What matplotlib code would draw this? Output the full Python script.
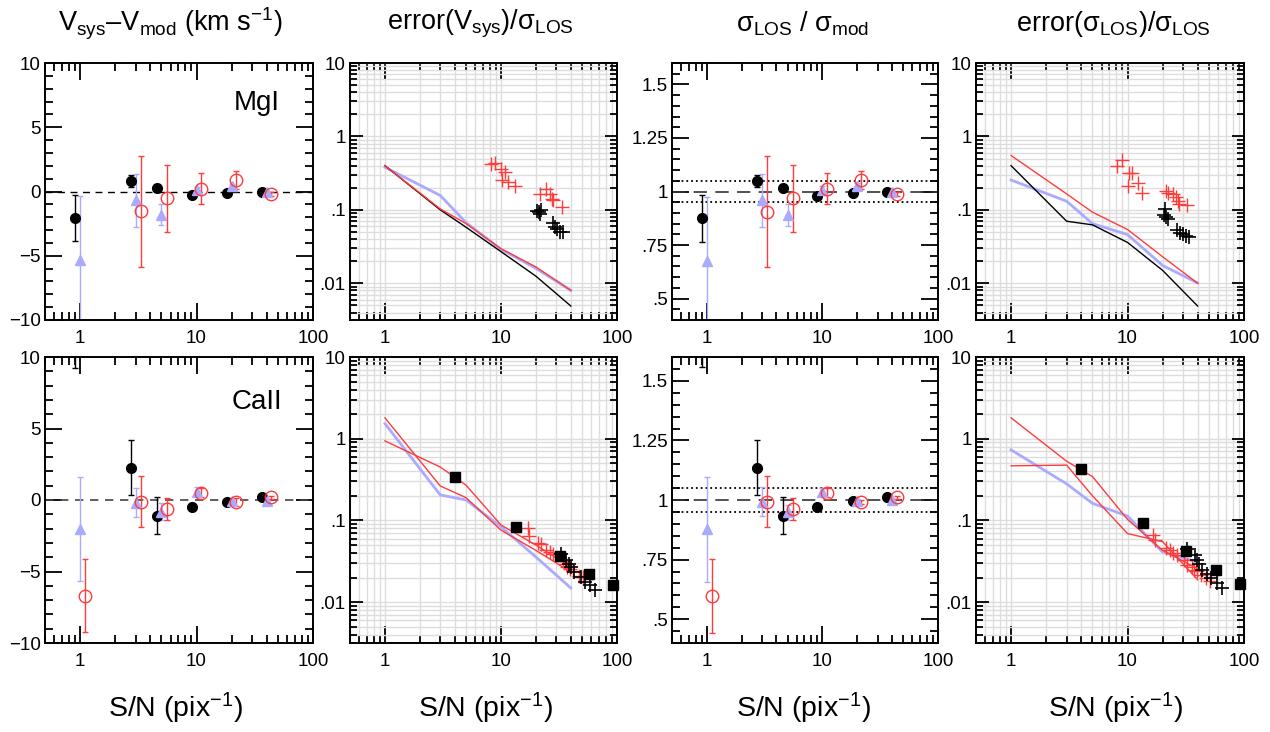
import numpy as np
import matplotlib
matplotlib.use('Agg')
import matplotlib.pyplot as plt
from matplotlib.ticker import LogLocator, NullFormatter, MultipleLocator

plt.rcParams['font.family'] = ['Liberation Sans', 'DejaVu Sans']
plt.rcParams['mathtext.fontset'] = 'custom'
plt.rcParams['mathtext.rm'] = 'Liberation Sans'
plt.rcParams['mathtext.it'] = 'Liberation Sans:italic'
plt.rcParams['mathtext.sf'] = 'Liberation Sans'

# S/N positions of the three samples (slightly offset) and of the model curves
sn_black = [0.9, 2.74, 4.6, 9.06, 18.3, 36.3]
sn_blue = [1.0, 3.0, 5.0, 10.0, 20.0, 40.0]
sn_red = [1.1, 3.33, 5.53, 11.0, 21.7, 44.0]
sn_model = [1, 3, 5, 10, 20, 40]

# --- MgI ---
mg_dv_black = [-2.05, 0.80, 0.26, -0.31, -0.10, 0.0]
mg_dv_black_err = [1.8, 0.45, 0.15, 0.15, 0.1, 0.1]
mg_dv_blue = [-5.36, -0.70, -1.79, 0.08, 0.41, -0.05]
mg_dv_blue_err = [5.0, 2.05, 0.85, 0.3, 0.2, 0.1]
mg_dv_red = [-1.55, -0.52, 0.21, 0.91, -0.18]
mg_dv_red_err = [4.3, 2.6, 1.2, 0.7, 0.15]

mg_sig_black = [0.874, 1.049, 1.016, 0.98, 0.992, 1.0]
mg_sig_black_err = [0.11, 0.028, 0.01, 0.01, 0.008, 0.005]
mg_sig_blue = [0.675, 0.958, 0.89, 1.005, 1.025, 0.997]
mg_sig_blue_err = [0.3, 0.125, 0.05, 0.02, 0.015, 0.01]
mg_sig_red = [0.906, 0.969, 1.013, 1.055, 0.989]
mg_sig_red_err = [0.26, 0.157, 0.072, 0.042, 0.01]

mg_ev_model_black = [0.40, 0.10, 0.058, 0.027, 0.0125, 0.0049]
mg_ev_model_red = [0.40, 0.103, 0.065, 0.0296, 0.0167, 0.008]
mg_ev_model_blue = [0.38, 0.157, 0.067, 0.029, 0.016, 0.008]

mg_es_model_black = [0.40, 0.070, 0.0625, 0.036, 0.015, 0.0049]
mg_es_model_red = [0.55, 0.165, 0.093, 0.054, 0.023, 0.010]
mg_es_model_blue = [0.255, 0.131, 0.065, 0.046, 0.0175, 0.0101]

mg_ev_red_x = [8.15, 8.9, 10.0, 10.8, 10.3, 11.5, 13.2, 21.6, 24.3, 26.2, 27.7, 28.2, 33.5]
mg_ev_red_y = [0.42, 0.43, 0.36, 0.325, 0.255, 0.238, 0.214, 0.162, 0.193, 0.162, 0.141, 0.137, 0.109]
mg_ev_black_x = [20.5, 21.2, 21.9, 22.3, 28.1, 29.0, 30.4, 32.0, 34.0]
mg_ev_black_y = [0.098, 0.093, 0.087, 0.10, 0.066, 0.059, 0.055, 0.05, 0.05]

mg_es_red_x = [8.1, 8.94, 10.2, 10.9, 10.0, 12.3, 13.2, 21.2, 22.4, 24.6, 26.3, 27.0, 27.4, 32.6]
mg_es_red_y = [0.40, 0.48, 0.315, 0.315, 0.214, 0.23, 0.17, 0.183, 0.168, 0.162, 0.149, 0.134, 0.12, 0.115]
mg_es_black_x = [20.6, 21.3, 22.2, 21.0, 26.8, 28.1, 30.0, 31.7, 34.0]
mg_es_black_y = [0.086, 0.081, 0.075, 0.103, 0.054, 0.048, 0.047, 0.044, 0.043]

# --- CaII ---
ca_dv_black = [11.0, 2.26, -1.09, -0.49, -0.16, 0.19]
ca_dv_black_err = [1.77, 1.92, 1.3, 0.15, 0.1, 0.1]
ca_dv_blue = [-2.02, -0.19, -0.81, 0.58, -0.1, -0.05]
ca_dv_blue_err = [3.64, 1.0, 0.6, 0.3, 0.15, 0.1]
ca_dv_red = [-6.7, -0.12, -0.63, 0.51, -0.14, 0.19]
ca_dv_red_err = [2.56, 1.77, 0.76, 0.3, 0.25, 0.1]

ca_sig_black = [1.7, 1.136, 0.934, 0.971, 0.994, 1.011]
ca_sig_black_err = [0.14, 0.116, 0.077, 0.01, 0.008, 0.005]
ca_sig_blue = [0.878, 0.993, 0.948, 1.035, 0.994, 1.0]
ca_sig_blue_err = [0.22, 0.061, 0.03, 0.015, 0.01, 0.005]
ca_sig_red = [0.596, 0.993, 0.962, 1.031, 0.992, 1.011]
ca_sig_red_err = [0.155, 0.107, 0.046, 0.02, 0.01, 0.005]

ca_ev_model_red_a = [1.8, 0.264, 0.19, 0.076, 0.043, 0.0234]
ca_ev_model_red_b = [0.94, 0.45, 0.27, 0.088, 0.05, 0.027]
ca_ev_model_blue = [1.53, 0.205, 0.178, 0.0836, 0.0357, 0.0149]

ca_es_model_red_a = [1.8, 0.53, 0.344, 0.103, 0.043, 0.0257]
ca_es_model_red_b = [0.466, 0.475, 0.2, 0.069, 0.055, 0.0188]
ca_es_model_blue = [0.73, 0.28, 0.162, 0.113, 0.041, 0.031]

ca_sq_x = [3.98, 13.6, 32.0, 57.0, 93.0]
ca_ev_sq_y = [0.338, 0.082, 0.0368, 0.0219, 0.0163]
ca_es_sq_y = [0.424, 0.094, 0.042, 0.0245, 0.0168]

ca_ev_red_x = [17.1, 17.5, 20.9, 22.3, 24.6, 26.3, 28.1, 34.3, 36.0, 37.0, 39.0, 42.0, 47.5, 50.6]
ca_ev_red_y = [0.08, 0.065, 0.053, 0.051, 0.044, 0.041, 0.039, 0.0316, 0.0297, 0.027, 0.0258, 0.0241, 0.0207, 0.0204]
ca_ev_black_x = [33.0, 36.6, 38.5, 40.3, 43.0, 49.0, 53.4, 58.6, 64.5]
ca_ev_black_y = [0.039, 0.0325, 0.0297, 0.027, 0.0234, 0.0204, 0.0176, 0.0161, 0.0139]

ca_es_red_x = [16.4, 17.3, 21.3, 23.0, 24.8, 26.8, 30.6, 32.7, 35.5, 37.2, 39.8, 42.5, 46.9, 50.6]
ca_es_red_y = [0.066, 0.057, 0.046, 0.044, 0.04, 0.0375, 0.033, 0.0284, 0.027, 0.0246, 0.024, 0.0213, 0.0199, 0.0184]
ca_es_black_x = [32.6, 37.6, 39.1, 40.7, 43.9, 48.4, 51.6, 58.8, 65.0]
ca_es_black_y = [0.045, 0.0375, 0.0325, 0.0291, 0.025, 0.0223, 0.02, 0.0172, 0.0149]

titles = ['V$_\\mathrm{sys}$\u2013V$_\\mathrm{mod}$ (km s$^{-1}$)',
          'error(V$_\\mathrm{sys}$)/\u03c3$_\\mathrm{LOS}$',
          '\u03c3$_\\mathrm{LOS}$ / \u03c3$_\\mathrm{mod}$',
          'error(\u03c3$_\\mathrm{LOS}$)/\u03c3$_\\mathrm{LOS}$']
xlabel = 'S/N (pix$^{-1}$)'

BLUE = '#aaaaff'
RED = '#ff3b3b'
W, H = 1270, 732

fig = plt.figure(figsize=(12.7, 7.32), dpi=100)


def make_axes(x0, x1, y0, y1):
    return fig.add_axes([x0 / W, 1 - y1 / H, (x1 - x0) / W, (y1 - y0) / H])


def style_x(ax):
    ax.set_xscale('log')
    ax.set_xlim(0.5, 100)
    ax.set_xticks([1, 10, 100])
    ax.set_xticklabels(['1', '10', '100'])
    ax.xaxis.set_minor_locator(LogLocator(base=10, subs=np.arange(2, 10), numticks=20))
    ax.xaxis.set_minor_formatter(NullFormatter())
    ax.tick_params(axis='x', which='major', length=12, pad=7)
    ax.tick_params(axis='x', which='minor', length=6)
    for s in ax.spines.values():
        s.set_linewidth(1.4)
    ax.tick_params(which='both', direction='in', top=True, right=True,
                   width=1.3, labelsize=13.5)


def style_log(ax):
    style_x(ax)
    ax.set_yscale('log')
    ax.set_ylim(10 ** -2.5, 10)
    ax.set_yticks([0.01, 0.1, 1, 10])
    ax.set_yticklabels(['.01', '.1', '1', '10'])
    ax.yaxis.set_minor_locator(LogLocator(base=10, subs=np.arange(2, 10), numticks=20))
    ax.yaxis.set_minor_formatter(NullFormatter())
    ax.tick_params(axis='y', which='major', length=9, pad=3)
    ax.tick_params(axis='y', which='minor', length=5)
    ax.grid(True, which='both', color='#dddddd', lw=1)
    ax.set_axisbelow(True)


def style_lin(ax, lo, hi, major, minor, labels):
    style_x(ax)
    ax.set_ylim(lo, hi)
    ax.yaxis.set_major_locator(MultipleLocator(major))
    ax.yaxis.set_minor_locator(MultipleLocator(minor))
    ax.set_yticks(list(labels.keys()))
    ax.set_yticklabels(list(labels.values()))
    ax.tick_params(axis='y', which='major', length=12, pad=3)
    ax.tick_params(axis='y', which='minor', length=6)


def points(ax, xb, yb, eb, xu, yu, eu, xr, yr, er):
    kw = dict(capsize=2, elinewidth=1, capthick=1)
    ax.errorbar(xb, yb, yerr=eb, fmt='o', color='k', ms=7, **kw)
    ax.errorbar(xu, yu, yerr=eu, fmt='^', color=BLUE, ms=7, **kw)
    ax.errorbar(xr, yr, yerr=er, fmt='o', color=RED, mfc='none', ms=9, mew=1, **kw)


dv_labels = {10: '10', 5: '5', 0: '0', -5: '\u22125', -10: '\u221210'}
sig_labels = {1.5: '1.5', 1.25: '1.25', 1.0: '1', 0.75: '.75', 0.5: '.5'}

cols = [(45, 313), (350, 617), (672, 938), (976, 1244)]
rows = [(63, 320), (357, 643)]

# ---------------- MgI row ----------------
ax = make_axes(*cols[0], *rows[0])
style_lin(ax, -10, 10, 5, 1, dv_labels)
ax.axhline(0, color='k', ls=(0, (5, 4)), lw=1)
points(ax, sn_black, mg_dv_black, mg_dv_black_err, sn_blue, mg_dv_blue, mg_dv_blue_err,
       sn_red[1:], mg_dv_red, mg_dv_red_err)
ax.text(0.79, 0.845, 'MgI', transform=ax.transAxes, ha='center', va='center', fontsize=20)

ax = make_axes(*cols[1], *rows[0])
style_log(ax)
ax.plot(sn_model, mg_ev_model_blue, color=BLUE, lw=2)
ax.plot(sn_model, mg_ev_model_black, color='k', lw=1)
ax.plot(sn_model, mg_ev_model_red, color=RED, lw=1)
ax.plot(mg_ev_red_x, mg_ev_red_y, '+', color=RED, ms=10, mew=1)
ax.plot(mg_ev_black_x, mg_ev_black_y, '+', color='k', ms=10, mew=1.2)

ax = make_axes(*cols[2], *rows[0])
style_lin(ax, 0.4, 1.6, 0.25, 0.05, sig_labels)
ax.axhline(1.0, color='#333333', ls=(0, (8, 5)), lw=1.2)
ax.axhline(1.05, color='k', ls=':', lw=1.3)
ax.axhline(0.95, color='k', ls=':', lw=1.3)
points(ax, sn_black, mg_sig_black, mg_sig_black_err, sn_blue, mg_sig_blue, mg_sig_blue_err,
       sn_red[1:], mg_sig_red, mg_sig_red_err)

ax = make_axes(*cols[3], *rows[0])
style_log(ax)
ax.plot(sn_model, mg_es_model_blue, color=BLUE, lw=2)
ax.plot(sn_model, mg_es_model_black, color='k', lw=1)
ax.plot(sn_model, mg_es_model_red, color=RED, lw=1)
ax.plot(mg_es_red_x, mg_es_red_y, '+', color=RED, ms=10, mew=1)
ax.plot(mg_es_black_x, mg_es_black_y, '+', color='k', ms=10, mew=1.2)

# ---------------- CaII row ----------------
ax = make_axes(*cols[0], *rows[1])
style_lin(ax, -10, 10, 5, 1, dv_labels)
ax.axhline(0, color='#444444', ls=(0, (5, 4)), lw=1.2)
points(ax, sn_black, ca_dv_black, ca_dv_black_err, sn_blue, ca_dv_blue, ca_dv_blue_err,
       sn_red, ca_dv_red, ca_dv_red_err)
ax.text(0.79, 0.843, 'CaII', transform=ax.transAxes, ha='center', va='center', fontsize=20)

ax = make_axes(*cols[1], *rows[1])
style_log(ax)
ax.plot(sn_model, ca_ev_model_blue, color=BLUE, lw=2)
ax.plot(sn_model, ca_ev_model_red_a, color=RED, lw=1)
ax.plot(sn_model, ca_ev_model_red_b, color=RED, lw=1)
ax.plot(ca_ev_red_x, ca_ev_red_y, '+', color=RED, ms=10, mew=1)
ax.plot(ca_ev_black_x, ca_ev_black_y, '+', color='k', ms=10, mew=1.2)
ax.plot(ca_sq_x, ca_ev_sq_y, 's', color='k', ms=7, clip_on=False)

ax = make_axes(*cols[2], *rows[1])
style_lin(ax, 0.4, 1.6, 0.25, 0.05, sig_labels)
ax.axhline(1.0, color='#333333', ls=(0, (8, 5)), lw=1.2)
ax.axhline(1.05, color='k', ls=':', lw=1.3)
ax.axhline(0.95, color='k', ls=':', lw=1.3)
points(ax, sn_black, ca_sig_black, ca_sig_black_err, sn_blue, ca_sig_blue, ca_sig_blue_err,
       sn_red, ca_sig_red, ca_sig_red_err)

ax = make_axes(*cols[3], *rows[1])
style_log(ax)
ax.plot(sn_model, ca_es_model_blue, color=BLUE, lw=2)
ax.plot(sn_model, ca_es_model_red_a, color=RED, lw=1)
ax.plot(sn_model, ca_es_model_red_b, color=RED, lw=1)
ax.plot(ca_es_red_x, ca_es_red_y, '+', color=RED, ms=10, mew=1)
ax.plot(ca_es_black_x, ca_es_black_y, '+', color='k', ms=10, mew=1.2)
ax.plot(ca_sq_x, ca_es_sq_y, 's', color='k', ms=7, clip_on=False)

# column titles and x labels
title_x = [170, 480, 803, 1113]
label_x = [175, 485, 803, 1115]
for tx, lx, t in zip(title_x, label_x, titles):
    fig.text(tx / W, 1 - 24 / H, t, ha='center', va='center', fontsize=19.5)
    fig.text(lx / W, 1 - 708 / H, xlabel, ha='center', va='center', fontsize=20.5)

fig.savefig('out.png', dpi=100)
